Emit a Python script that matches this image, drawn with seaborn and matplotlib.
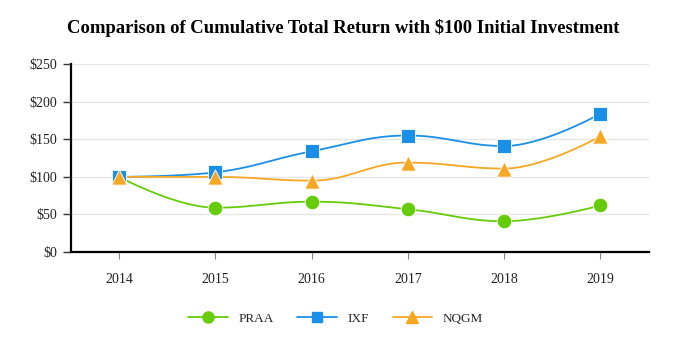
import numpy as np
import pandas as pd
import matplotlib
matplotlib.use("Agg")
import matplotlib.pyplot as plt
import seaborn as sns
from matplotlib.lines import Line2D

# ---- data ----
years = ["2014", "2015", "2016", "2017", "2018", "2019"]
praa = [100, 59, 67, 57, 41, 62]
ixf = [100, 106, 134, 155, 141, 184]
nqgm = [100, 100, 95, 119, 111, 154]

series_names = ["PRAA", "IXF", "NQGM"]
colors = {"PRAA": "#66CC0A", "IXF": "#1A8FE8", "NQGM": "#F7A823"}
markers = {"PRAA": "o", "IXF": "s", "NQGM": "^"}
msizes = {"PRAA": 110, "IXF": 100, "NQGM": 120}

df = pd.DataFrame({"year": years * 3,
                   "value": praa + ixf + nqgm,
                   "series": sum([[s] * len(years) for s in series_names], [])})
df["x"] = df.groupby("series").cumcount()


def spline_curve(xs, ys, smoothing=1.5, n=40):
    # Bezier spline similar to the one used by the original chart
    xs = np.asarray(xs, float)
    ys = np.asarray(ys, float)
    k = len(xs)
    left = [(xs[i], ys[i]) for i in range(k)]
    right = [(xs[i], ys[i]) for i in range(k)]
    denom = smoothing + 1
    for i in range(1, k - 1):
        lx = (smoothing * xs[i] + xs[i - 1]) / denom
        ly = (smoothing * ys[i] + ys[i - 1]) / denom
        rx = (smoothing * xs[i] + xs[i + 1]) / denom
        ry = (smoothing * ys[i] + ys[i + 1]) / denom
        corr = (ry - ly) * (rx - xs[i]) / (rx - lx) + ys[i] - ry
        ly += corr
        ry += corr
        if ly > ys[i - 1] and ly > ys[i]:
            ly = max(ys[i - 1], ys[i]); ry = 2 * ys[i] - ly
        elif ly < ys[i - 1] and ly < ys[i]:
            ly = min(ys[i - 1], ys[i]); ry = 2 * ys[i] - ly
        if ry > ys[i + 1] and ry > ys[i]:
            ry = max(ys[i + 1], ys[i]); ly = 2 * ys[i] - ry
        elif ry < ys[i + 1] and ry < ys[i]:
            ry = min(ys[i + 1], ys[i]); ly = 2 * ys[i] - ry
        left[i] = (lx, ly)
        right[i] = (rx, ry)
    t = np.linspace(0, 1, n)[:, None]
    out = []
    for i in range(k - 1):
        p0 = np.array([xs[i], ys[i]])
        p1 = np.array(right[i])
        p2 = np.array(left[i + 1])
        p3 = np.array([xs[i + 1], ys[i + 1]])
        seg = ((1 - t) ** 3) * p0 + 3 * ((1 - t) ** 2) * t * p1 + 3 * (1 - t) * t ** 2 * p2 + t ** 3 * p3
        out.append(seg if i == 0 else seg[1:])
    out = np.vstack(out)
    return out[:, 0], out[:, 1]


sns.set_theme(style="white")
plt.rcParams["font.family"] = ["Liberation Serif", "DejaVu Serif"]

fig = plt.figure(figsize=(6.82, 3.54), dpi=100)
ax = fig.add_axes([0.104, 0.288, 0.847, 0.531])

for s in series_names:
    sub = df[df["series"] == s]
    cx, cy = spline_curve(sub["x"], sub["value"])
    ax.plot(cx, cy, color=colors[s], lw=1.3, zorder=2)
    sns.scatterplot(data=sub, x="x", y="value", marker=markers[s], s=msizes[s],
                    color=colors[s], edgecolor="white", linewidth=0.6,
                    ax=ax, zorder=3, legend=False)

ax.set_xlim(-0.5, 5.5)
ax.set_ylim(0, 250)
ax.set_xticks(range(len(years)))
ax.set_xticklabels(years)
ax.set_yticks(range(0, 251, 50))
ax.set_yticklabels([f"${v}" for v in range(0, 251, 50)])
ax.set_xlabel("")
ax.set_ylabel("")
ax.grid(axis="y", color="#e6e6e6", lw=1)
ax.set_axisbelow(True)
for side in ["top", "right"]:
    ax.spines[side].set_visible(False)
ax.spines["left"].set_color("black")
ax.spines["left"].set_linewidth(1.6)
ax.spines["bottom"].set_color("black")
ax.spines["bottom"].set_linewidth(1.6)
ax.tick_params(axis="y", left=True, length=6, width=1, color="#333333", labelsize=10, pad=4, labelcolor="#222222")
ax.tick_params(axis="x", bottom=True, length=5, width=0.8, color="#888888", labelsize=10, pad=10, labelcolor="#222222")

fig.suptitle("Comparison of Cumulative Total Return with $100 Initial Investment",
             x=0.503, y=0.947, fontsize=13.4, fontweight="bold", color="black")

handles = [Line2D([0], [0], color=colors[s], lw=1.3, marker=markers[s],
                  markersize=8 if s != "IXF" else 7.5, markeredgecolor=colors[s])
           for s in series_names]
fig.legend(handles, series_names, loc="center", bbox_to_anchor=(0.492, 0.1),
           ncol=3, frameon=False, fontsize=9.5, handlelength=3.0,
           columnspacing=1.8, handletextpad=0.8)

fig.savefig("out.png", dpi=100)
